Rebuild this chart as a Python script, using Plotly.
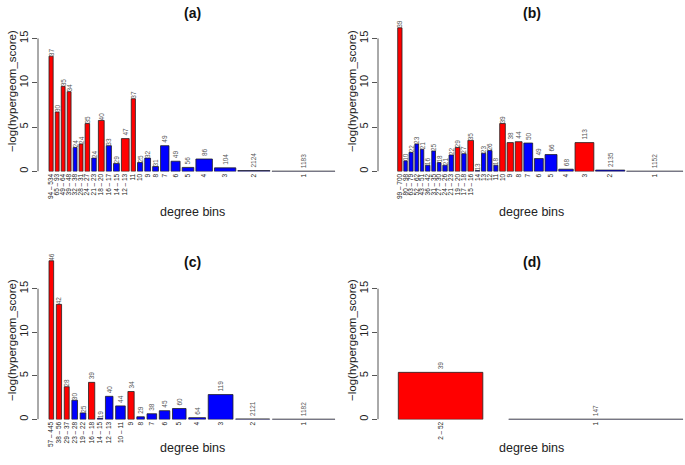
import numpy as np
import plotly.graph_objects as go

# panel (a)
a_bins = ["94 – 534", "65 – 93", "49 – 64", "39 – 48", "32 – 38", "28 – 31", "24 – 27",
          "21 – 23", "18 – 20", "16 – 17", "14 – 15", "12 – 13", "11", "10", "9", "8",
          "7", "6", "5", "4", "3", "2", "1"]
a_score = [13.0, 6.7, 9.6, 9.0, 2.7, 3.1, 5.4, 1.5, 5.75, 2.9, 0.9, 3.7, 8.2, 1.0, 1.5,
           0.55, 2.9, 1.15, 0.45, 1.4, 0.4, 0.1, 0.02]
a_count = [37, 30, 35, 34, 24, 24, 35, 24, 40, 33, 29, 47, 37, 25, 32, 31, 49, 49, 56,
           86, 104, 2124, 1183]
a_width = [4.3, 4, 4, 4, 4, 4, 4.7, 4.7, 6, 5.3, 6, 8, 4.3, 5.3, 6, 6, 8.7, 9.3, 12,
           17, 22, 33, 65]
a_enriched = [1, 1, 1, 1, 0, 1, 1, 0, 1, 0, 0, 1, 1, 0, 0, 0, 0, 0, 0, 0, 0, 0, 0]

# panel (b)
b_bins = ["99 – 700", "80 – 98", "63 – 79", "52 – 62", "43 – 51", "36 – 42", "31 – 35",
          "27 – 30", "24 – 26", "21 – 23", "19 – 20", "17 – 18", "15 – 16", "14", "13",
          "12", "11", "10", "9", "8", "7", "6", "5", "4", "3", "2", "1"]
b_score = [16.2, 1.2, 2.15, 3.1, 2.5, 0.7, 2.3, 1.0, 0.7, 1.85, 2.7, 2.0, 3.5, 0.1, 2.05,
           2.35, 0.7, 5.4, 3.25, 3.35, 3.2, 1.45, 1.9, 0.25, 3.25, 0.15, 0.02]
b_count = [39, 10, 22, 23, 21, 16, 25, 18, 21, 22, 29, 27, 35, 13, 23, 26, 18, 39, 38,
           44, 50, 49, 66, 68, 113, 2135, 1152]
b_width = [4.6, 3.7, 4.3, 4, 3.6, 4.7, 4, 4, 4.7, 4.7, 5, 4.7, 6, 4.7, 4.6, 4.7, 4.4, 6,
           6.7, 7.3, 9.4, 9.4, 12.7, 15.4, 20, 31, 60]
b_enriched = [1, 0, 0, 0, 0, 0, 0, 0, 0, 0, 1, 0, 1, 0, 0, 0, 0, 1, 1, 1, 0, 0, 0, 0, 1, 0, 0]

# panel (c)
c_bins = ["57 – 445", "38 – 56", "29 – 37", "23 – 28", "19 – 22", "16 – 18", "14 – 15",
          "12 – 13", "10 – 11", "9", "8", "7", "6", "5", "4", "3", "2", "1"]
c_score = [18.2, 13.2, 3.75, 2.2, 0.75, 4.25, 0.12, 2.65, 1.55, 3.2, 0.3, 0.65, 1.0,
           1.25, 0.2, 2.85, 0.05, 0.02]
c_count = [46, 42, 28, 30, 25, 39, 19, 40, 44, 34, 29, 38, 45, 60, 64, 119, 2121, 1182]
c_width = [4.7, 5.3, 5, 5.7, 5.7, 6.3, 5.4, 7.6, 9.7, 6.3, 7.6, 9.7, 10.6, 13.7, 17, 25,
           34.3, 63.3]
c_enriched = [1, 1, 1, 0, 0, 1, 0, 0, 0, 1, 0, 0, 0, 0, 0, 0, 0, 0]

# panel (d)
d_bins = ["2 – 52", "1"]
d_score = [5.4, 0.02]
d_count = [39, 147]
d_width = [84.4, 174]
d_enriched = [1, 0]

W, H = 685, 465
FONT = "Liberation Sans, Arial, sans-serif"
RED, BLUE = "#ff0000", "#0000ff"
GAP = 0.2  # R barplot default space

# pixel frames of each panel
frames = [
    dict(title="(a)", bins=a_bins, score=a_score, count=a_count, width=a_width, enr=a_enriched,
         left=38, right=346, b0=49, b1=335, zero=171.5, top=10, ppu=8.87, ytit=91, xtit=212),
    dict(title="(b)", bins=b_bins, score=b_score, count=b_count, width=b_width, enr=b_enriched,
         left=378, right=685, b0=397.7, b1=683, zero=171.5, top=10, ppu=8.87, ytit=91, xtit=212),
    dict(title="(c)", bins=c_bins, score=c_score, count=c_count, width=c_width, enr=c_enriched,
         left=38, right=346, b0=49, b1=335, zero=419.5, top=255, ppu=8.72, ytit=340, xtit=448),
    dict(title="(d)", bins=d_bins, score=d_score, count=d_count, width=d_width, enr=d_enriched,
         left=378, right=685, b0=398.3, b1=683, zero=419.5, top=255, ppu=8.72, ytit=340, xtit=448),
]
title_y = [13, 13, 262, 262]

fig = go.Figure()
layout = dict(width=W, height=H, margin=dict(l=0, r=0, t=0, b=0),
              paper_bgcolor="white", plot_bgcolor="white", showlegend=False,
              font=dict(family=FONT, color="#222"), annotations=[], shapes=[])

for i, p in enumerate(frames):
    k = "" if i == 0 else str(i + 1)
    w = np.array(p["width"], dtype=float)
    gap = GAP * w.mean()
    lefts = gap * (np.arange(len(w)) + 1) + np.concatenate([[0], np.cumsum(w)[:-1]])
    centers = lefts + w / 2
    total = w.sum() + len(w) * gap
    s = (p["b1"] - p["b0"]) / (total - gap)
    xr = [gap - (p["b0"] - p["left"]) / s, total + (p["right"] - p["b1"]) / s]
    yr = [-0.01, (p["zero"] - p["top"]) / p["ppu"]]

    count_font = dict(family=FONT, size=6.5, color="#555")
    fig.add_trace(go.Bar(
        x=centers, y=p["score"], width=w, xaxis="x" + k, yaxis="y" + k,
        marker=dict(color=[RED if e else BLUE for e in p["enr"]],
                    line=dict(color="#222", width=0.8)),
        text=[str(c) for c in p["count"]], textposition="outside", textangle=-90,
        textfont=count_font, outsidetextfont=count_font,
        constraintext="none", cliponaxis=False, hoverinfo="skip",
    ))

    layout["xaxis" + k] = dict(
        domain=[p["left"] / W, p["right"] / W], range=xr, anchor="y" + k,
        showgrid=False, zeroline=False, showline=False, ticks="",
        tickmode="array", tickvals=centers, ticktext=p["bins"], tickangle=-90,
        tickfont=dict(family=FONT, size=6.5, color="#222"),
    )
    layout["yaxis" + k] = dict(
        domain=[1 - p["zero"] / H, 1 - p["top"] / H], range=yr, anchor="x" + k,
        showgrid=False, zeroline=False, showline=False,
        tickmode="array", tickvals=[0, 5, 10, 15], ticks="outside", ticklen=5,
        tickcolor="#555", tickangle=-90, tickfont=dict(family=FONT, size=11, color="#222"),
    )
    layout["shapes"].append(dict(type="line", xref="x" + k + " domain", yref="y" + k,
                                 x0=0, x1=0, y0=0, y1=15, line=dict(color="#555", width=1)))

    cx = (p["left"] + p["right"]) / 2 / W
    layout["annotations"] += [
        dict(text="<b>" + p["title"] + "</b>", xref="paper", yref="paper", x=cx,
             y=1 - title_y[i] / H, xanchor="center", yanchor="middle",
             showarrow=False, font=dict(size=14, color="#111")),
        dict(text="degree bins", xref="paper", yref="paper", x=cx, y=1 - p["xtit"] / H,
             xanchor="center", yanchor="middle",
             showarrow=False, font=dict(size=12.5, color="#222")),
        dict(text="−log(hypergeom_score)", xref="paper", yref="paper",
             x=(p["left"] - 26) / W, y=1 - p["ytit"] / H, textangle=-90,
             xanchor="center", yanchor="middle",
             showarrow=False, font=dict(size=11.5, color="#222")),
    ]

fig.update_layout(**layout)
fig.write_html("out.html", config={"displayModeBar": False},
               post_script="document.body.style.margin='0';")
